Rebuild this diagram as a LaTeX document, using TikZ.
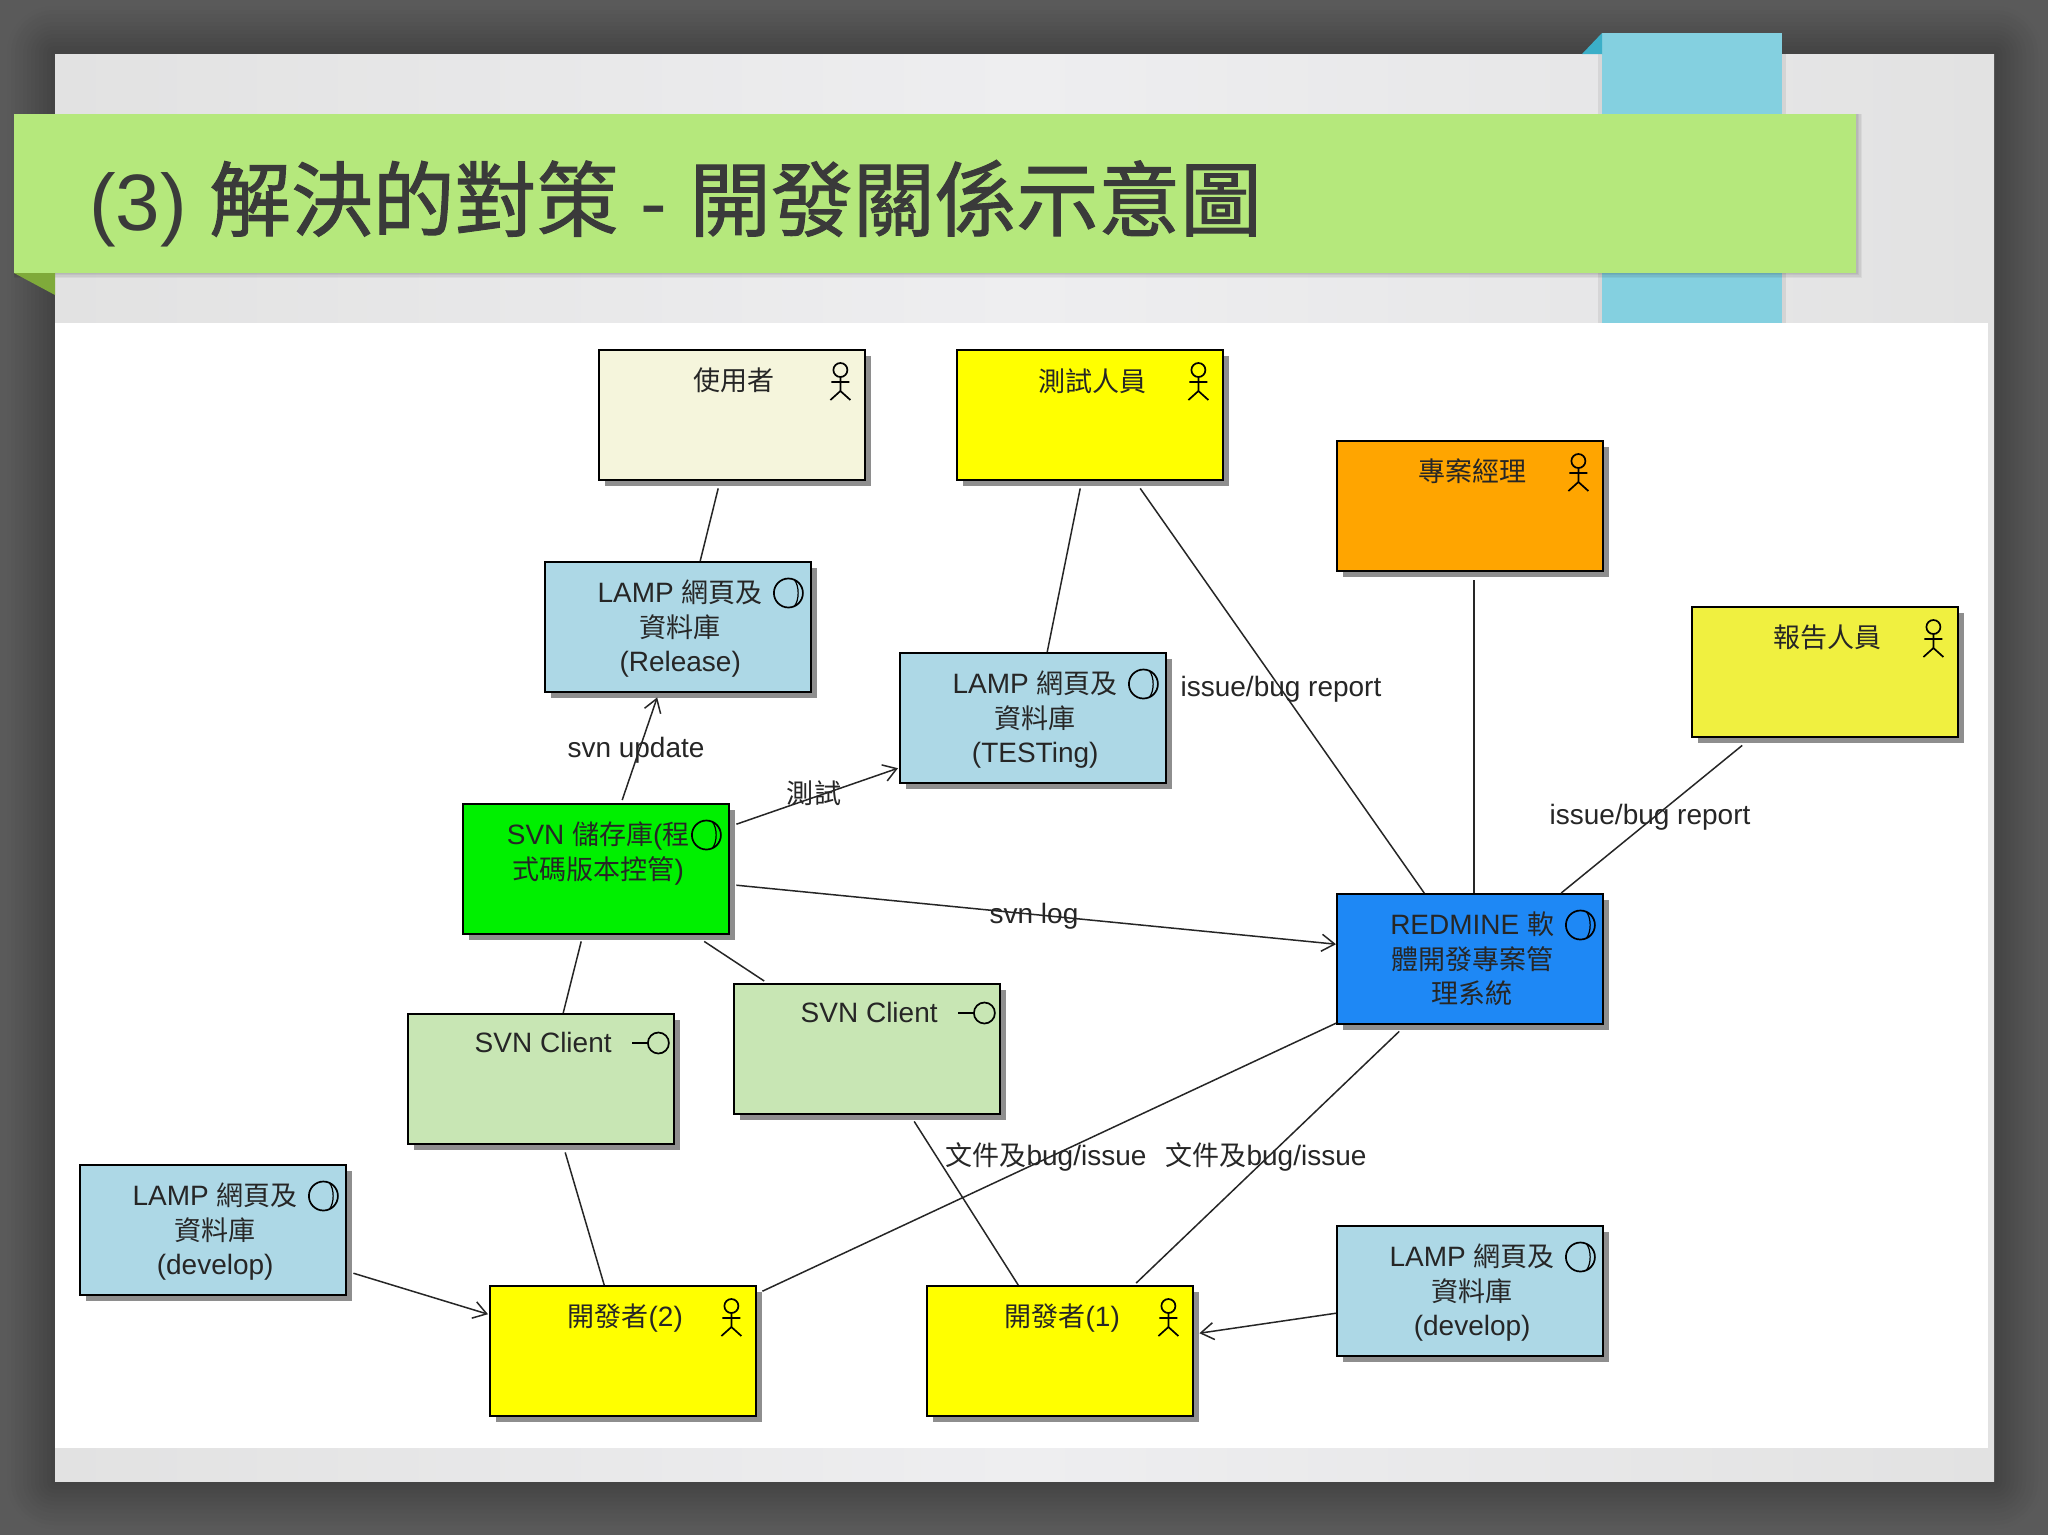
\documentclass[tikz,border=0pt]{standalone}
\usepackage{fontspec}
\setmainfont{Liberation Sans}
\newfontfamily\cjk[Scale=0.965]{Noto Sans CJK TC}
\newfontfamily\cjktitle[FakeBold=1.2]{Noto Sans CJK TC}
\usetikzlibrary{arrows.meta, calc, positioning, shadows}

\definecolor{pagedark}{HTML}{5A5A5A}
\definecolor{panelgrey}{HTML}{E2E2E2}
\definecolor{panellight}{HTML}{EEEEF0}
\definecolor{bannergreen}{HTML}{B5E87C}
\definecolor{folddgreen}{HTML}{7FAA3A}
\definecolor{bandblue}{HTML}{84D0E0}
\definecolor{foldblue}{HTML}{3BAFC8}
\definecolor{titleink}{HTML}{3A3A3A}
\definecolor{beigebox}{HTML}{F5F5DC}
\definecolor{paleyellow}{HTML}{F0F040}
\definecolor{fullyellow}{HTML}{FFFF00}
\definecolor{pmorange}{HTML}{FFA500}
\definecolor{lampblue}{HTML}{ADD8E6}
\definecolor{svngreen}{HTML}{00F000}
\definecolor{redmineblue}{HTML}{1E88F5}
\definecolor{clientgreen}{HTML}{C8E6B4}
\definecolor{boxshadow}{HTML}{8E8E8E}

\tikzset{
    ucbox/.style={draw=black, line width=2.4pt, anchor=north west, minimum width=266pt, minimum height=130pt,
        inner sep=0pt, drop shadow={shadow xshift=6pt, shadow yshift=-6pt, fill=boxshadow, opacity=1}},
    boxtext/.style={anchor=north, align=center, inner sep=0pt, text=black!85, font=\fontsize{28}{34.5}\selectfont},
    linktext/.style={inner sep=0pt, text=black!85, font=\fontsize{28}{32}\selectfont},
    conn/.style={line width=1.5pt, draw=black!85},
    flow/.style={conn, -{Straight Barb[length=13pt, width=17pt]}},
    actor/.pic={
        \draw[line width=1.7pt, fill=none] (0,-13) circle (7);
        \draw[line width=1.7pt] (0,-6) -- (0,9) (-9,-1) -- (9,-1) (-10,17) -- (0,8) -- (10,17);
    },
    iface/.pic={
        \draw[line width=1.7pt] (0,0) circle (14.5);
        \draw[line width=1.2pt] (6,-13.2) .. controls (11,-7) and (11,7) .. (6,13.2);
    },
    lolly/.pic={
        \draw[line width=1.7pt] (-26,0) -- (-10.5,0);
        \draw[line width=1.7pt] (0,0) circle (10.5);
    }
}

\newcommand{\zh}[1]{{\cjk #1}}
\newcommand{\ucbox}[5]{
    \node[ucbox, fill=#4] (#1) at (#2,#3) {};
    \node[boxtext] (#1txt) at ($(#1.north)+(2,19)$) {#5};
}

\begin{document}
\begin{tikzpicture}[x=1pt, y=-1pt]

    \useasboundingbox (0,0) rectangle (2048,1535);
    \fill[pagedark] (0,0) rectangle (2048,1535);

    \foreach \i in {0,...,11}{
        \pgfmathsetmacro{\gap}{48-4*\i}
        \pgfmathsetmacro{\ink}{65+0.75*\i}
        \fill[black!\ink, rounded corners=\gap pt] (55-\gap,54-\gap) rectangle (1994+\gap,1481+\gap);
    }

    \shade[left color=panelgrey, right color=panelgrey, middle color=panellight] (55,54) rectangle (1994,1481);
    \fill[white] (55,323) rectangle (1988,1448);

    \fill[black, opacity=0.07] (1598,54) rectangle (1786,323);
    \fill[bandblue] (1602,33) rectangle (1782,323);
    \fill[foldblue] (1602,33) -- (1582,54) -- (1602,54) -- cycle;

    \foreach \i in {1,...,4}{
        \fill[black, opacity=0.05] (14,114) rectangle (1856+1.5*\i,273+1.2*\i);
    }
    \fill[bannergreen] (14,114) rectangle (1856,273);
    \fill[folddgreen] (14,273) -- (55,273) -- (55,295) -- cycle;

    \node[anchor=base west, inner sep=0pt, text=titleink, font=\fontsize{80}{90}\selectfont] (title) at (89,230)
        {(3) {\fontsize{81.8}{90}\selectfont\cjktitle 解決的對策} - {\fontsize{81.8}{90}\selectfont\cjktitle 開發關係示意圖}};

    \ucbox{usr}{598}{349}{beigebox}{\zh{使用者}}
    \ucbox{tester}{956}{349}{fullyellow}{\zh{測試人員}}
    \ucbox{pm}{1336}{440}{pmorange}{\zh{專案經理}}
    \ucbox{report}{1691}{606}{paleyellow}{\zh{報告人員}}
    \ucbox{lamprel}{544}{561}{lampblue}{LAMP \zh{網頁及}\\\zh{資料庫}\\(Release)}
    \ucbox{lamptest}{899}{652}{lampblue}{LAMP \zh{網頁及}\\\zh{資料庫}\\(TESTing)}
    \ucbox{svn}{462}{803}{svngreen}{SVN \zh{儲存庫}(\zh{程}\\\zh{式碼版本控管})}
    \ucbox{redmine}{1336}{893}{redmineblue}{REDMINE \zh{軟}\\\zh{體開發專案管}\\\zh{理系統}}
    \ucbox{clienta}{407}{1013}{clientgreen}{SVN Client}
    \ucbox{clientb}{733}{983}{clientgreen}{SVN Client}
    \ucbox{lampdeva}{79}{1164}{lampblue}{LAMP \zh{網頁及}\\\zh{資料庫}\\(develop)}
    \ucbox{lampdevb}{1336}{1225}{lampblue}{LAMP \zh{網頁及}\\\zh{資料庫}\\(develop)}
    \ucbox{deva}{489}{1285}{fullyellow}{\zh{開發者}(2)}
    \ucbox{devb}{926}{1285}{fullyellow}{\zh{開發者}(1)}

    \foreach \who in {usr,tester,pm,report,deva,devb}{
        \pic at ($(\who.north east)+(-26,34)$) {actor};
    }
    \foreach \who in {lamprel,lamptest,svn,redmine,lampdeva,lampdevb}{
        \pic at ($(\who.north east)+(-24,32)$) {iface};
    }
    \foreach \who in {clienta,clientb}{
        \pic at ($(\who.north east)+(-17,30)$) {lolly};
    }

    \draw[conn] ($(usr.south)+(-14,7)$) -- ($(lamprel.north)+(22,0)$);
    \draw[conn] ($(tester.south)+(-10,7)$) -- ($(lamptest.north)+(14,0)$);
    \draw[conn] ($(tester.south)+(50,7)$) -- ($(redmine.north)+(-46,0)$);
    \draw[conn] ($(pm.south)+(4,8)$) -- ($(redmine.north)+(4,0)$);
    \draw[conn] ($(report.south)+(-83,7)$) -- ($(redmine.north)+(91,0)$);
    \draw[flow] ($(svn.north)+(26,-3)$) -- ($(lamprel.south)+(-21,4)$);
    \draw[flow] ($(svn.east)+(6,-45)$) -- ($(lamptest.west)+(-1,50)$);
    \draw[flow] ($(svn.east)+(6,16)$) -- ($(redmine.west)+(0,-15)$);
    \draw[conn] ($(svn.south)+(-15,6)$) -- ($(clienta.north)+(22,0)$);
    \draw[conn] ($(svn.south)+(108,6)$) -- ($(clientb.north)+(-103,-2)$);
    \draw[conn] ($(clienta.south)+(24,7)$) -- ($(deva.north)+(-19,0)$);
    \draw[conn] ($(clientb.south)+(47,6)$) -- ($(devb.north)+(-42,0)$);
    \draw[conn] ($(redmine.west)+(0,64)$) -- ($(deva.east)+(5,-60)$);
    \draw[conn] ($(redmine.south)+(-71,6)$) -- ($(devb.north)+(76,-2)$);
    \draw[flow] ($(lampdeva.east)+(6,43)$) -- ($(deva.west)+(-1,-37)$);
    \draw[flow] ($(lampdevb.west)+(0,22)$) -- ($(devb.east)+(5,-18)$);

    \node[linktext] (lblupdate) at (636,750) {svn update};
    \node[linktext] (lbltest) at (814,793) {\zh{測試}};
    \node[linktext] (lbllog) at (1034,916) {svn log};
    \node[linktext] (lblissuea) at (1281,689) {issue/bug report};
    \node[linktext] (lblissueb) at (1650,817) {issue/bug report};
    \node[linktext] (lbldoca) at (1046,1157) {\zh{文件及}bug/issue};
    \node[linktext] (lbldocb) at (1266,1157) {\zh{文件及}bug/issue};

\end{tikzpicture}
\end{document}
